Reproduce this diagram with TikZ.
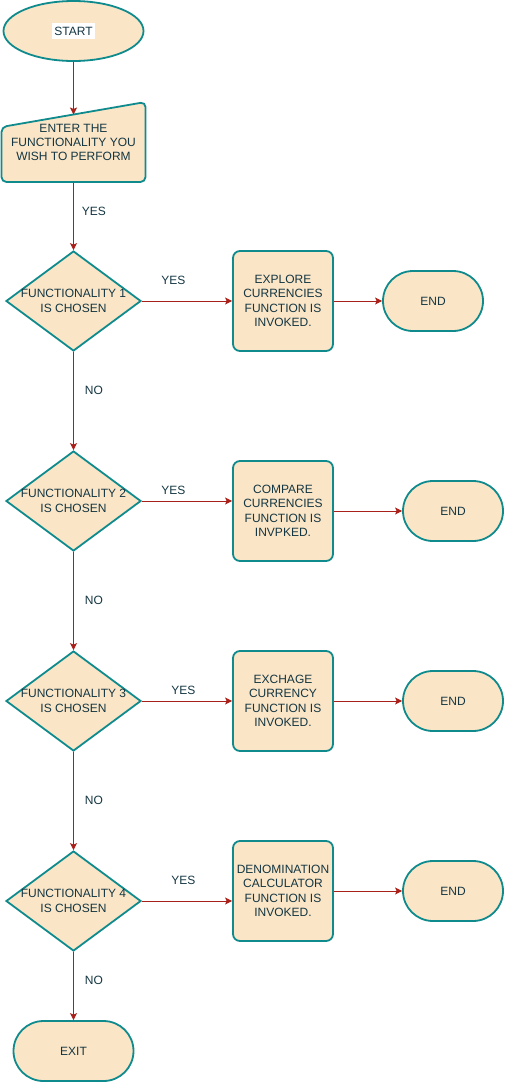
\documentclass[tikz,border=0pt]{standalone}
\usepackage{fontspec}
\setmainfont{Liberation Sans}
\usetikzlibrary{shapes.geometric,arrows.meta}
\definecolor{shapefill}{HTML}{FAE5C7}
\definecolor{shapeline}{HTML}{0F8B8D}
\definecolor{inkcol}{HTML}{143642}
\definecolor{flowcol}{HTML}{A8201A}
\begin{document}
\begin{tikzpicture}[x=1pt,y=-1pt,
  every node/.style={font=\fontsize{12}{14.4}\selectfont, text=inkcol, align=center},
  base/.style={draw=shapeline, fill=shapefill, line width=1.8pt, inner sep=0pt},
  terminal/.style={base, rectangle, rounded corners=30pt, minimum width=100pt, minimum height=60pt},
  decision/.style={base, diamond, minimum width=135pt, minimum height=100pt},
  procbox/.style={base, rectangle, rounded corners=7pt, minimum width=100pt, minimum height=100pt},
  flow/.style={draw=flowcol, line width=0.9pt, -{Stealth[length=7pt,width=7pt,inset=1.5pt]}},
  lab/.style={inner sep=0pt, text height=8.6pt, text depth=0pt}
]
\useasboundingbox (0,0) rectangle (505,1082);

% start terminal
\node[base, ellipse, minimum width=140pt, minimum height=60pt] (start) at (73.5,31) {};
\node[fill=white, inner xsep=2pt, inner ysep=0pt, text height=12pt, text depth=4pt] (startlab) at (start.center) {START};

% manual input shape
\draw[draw=shapeline, fill=shapefill, line width=1.8pt, rounded corners=5pt]
  (1.5,182) -- (1.5,127) -- (145.5,102) -- (145.5,182) -- cycle;
\node[minimum width=144pt, minimum height=80pt, inner sep=0pt] (inp) at (73.5,142.5)
  {ENTER THE\\FUNCTIONALITY YOU\\WISH TO PERFORM};
\coordinate (inptop) at (73.5,114.5);

% decisions
\node[decision, label={center:FUNCTIONALITY 1\\IS CHOSEN}] (d1) at (73.5,301) {};
\node[decision, label={center:FUNCTIONALITY 2\\IS CHOSEN}] (d2) at (73.5,501) {};
\node[decision, label={center:FUNCTIONALITY 3\\IS CHOSEN}] (d3) at (73.5,701) {};
\node[decision, label={center:FUNCTIONALITY 4\\IS CHOSEN}] (d4) at (73.5,901) {};

% actions
\node[procbox] (b1) at (283,301) {EXPLORE\\CURRENCIES\\FUNCTION IS\\INVOKED.};
\node[procbox] (b2) at (283,511) {COMPARE\\CURRENCIES\\FUNCTION IS\\INVPKED.};
\node[procbox] (b3) at (283,701) {EXCHAGE\\CURRENCY\\FUNCTION IS\\INVOKED.};
\node[procbox] (b4) at (283,891) {DENOMINATION\\CALCULATOR\\FUNCTION IS\\INVOKED.};

% end terminals
\node[terminal] (e1) at (433,301) {END};
\node[terminal] (e2) at (453,511) {END};
\node[terminal] (e3) at (453,701) {END};
\node[terminal] (e4) at (453,891) {END};
\node[terminal, minimum width=120pt] (exit) at (73.5,1051) {EXIT};

% main column
\draw[flow] (start) -- (inptop);
\draw[flow] (inp.south) -- node[lab, pos=0.42, right=8pt] {YES} (d1.north);
\draw[flow] (d1.south) -- node[lab, pos=0.39, right=11pt] {NO} (d2.north);
\draw[flow] (d2.south) -- node[lab, pos=0.49, right=11pt] {NO} (d3.north);
\draw[flow] (d3.south) -- node[lab, pos=0.49, right=11pt] {NO} (d4.north);
\draw[flow] (d4.south) -- node[lab, pos=0.41, right=11pt] {NO} (exit.north);

% yes branches
\draw[flow] (d1.east) -- node[lab, pos=0.35, yshift=21pt] {YES} (d1.east -| b1.west);
\draw[flow] (d2.east) -- node[lab, pos=0.35, yshift=11pt] {YES} (d2.east -| b2.west);
\draw[flow] (d3.east) -- node[lab, pos=0.46, yshift=11pt] {YES} (d3.east -| b3.west);
\draw[flow] (d4.east) -- node[lab, pos=0.46, yshift=21pt] {YES} (d4.east -| b4.west);

% to the end terminals
\draw[flow] (b1.east) -- (e1.west);
\draw[flow] (b2.east) -- (e2.west);
\draw[flow] (b3.east) -- (e3.west);
\draw[flow] (b4.east) -- (e4.west);
\end{tikzpicture}
\end{document}
